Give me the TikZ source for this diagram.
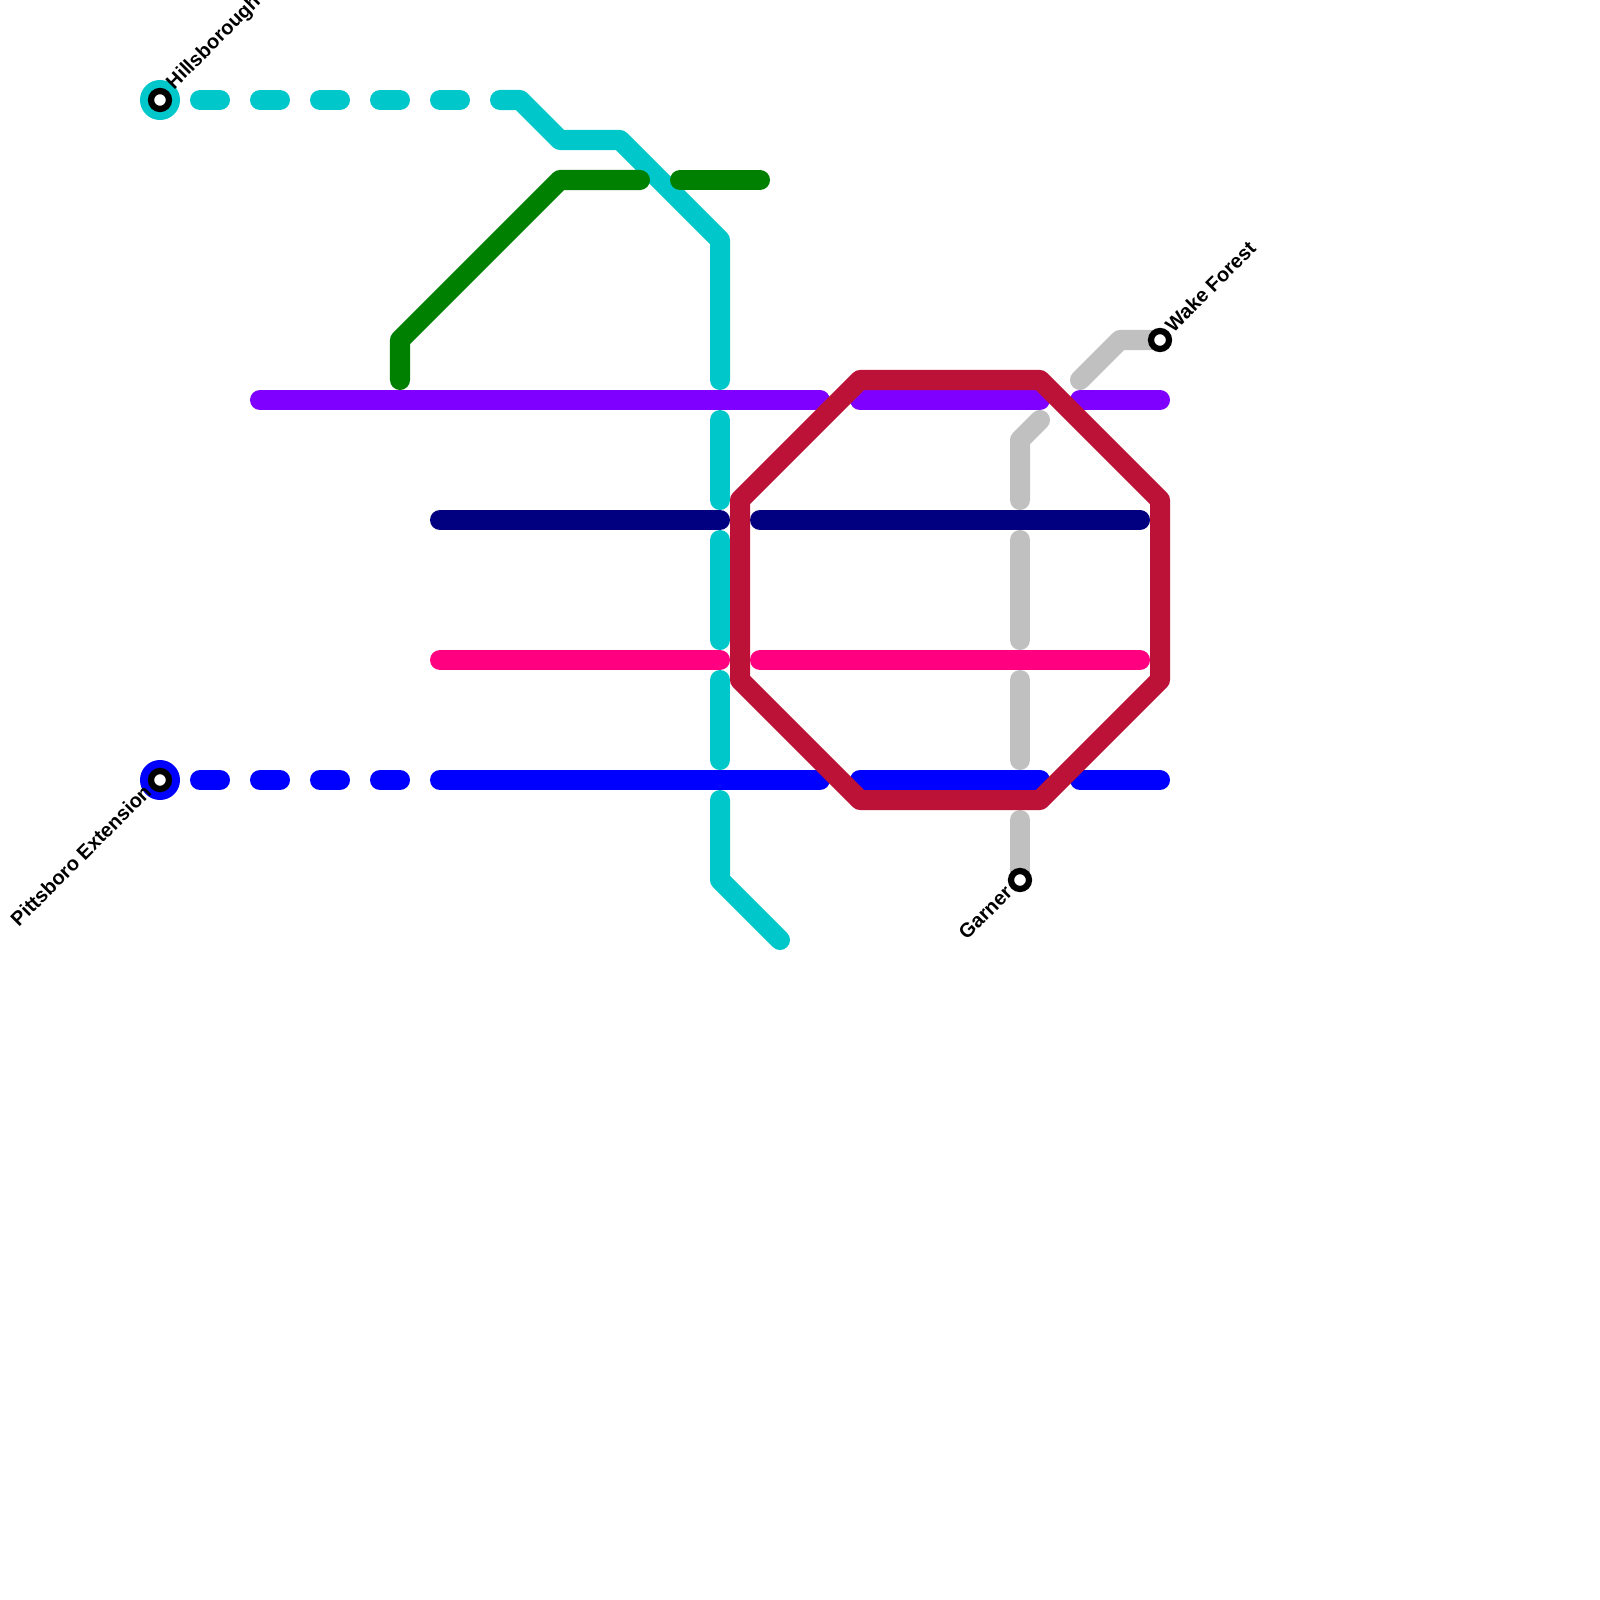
\documentclass[tikz,border=0pt]{standalone}
\usepackage{fontspec}
\setmainfont{Liberation Sans}
\usepackage{xcolor}
\definecolor{teal1}{HTML}{00C8CA}
\definecolor{green1}{HTML}{008000}
\definecolor{purple1}{HTML}{8000FF}
\definecolor{navy1}{HTML}{000080}
\definecolor{pink1}{HTML}{FF0080}
\definecolor{blue1}{HTML}{0000FF}
\definecolor{ring1}{HTML}{BC1238}
\definecolor{grey1}{HTML}{C0C0C0}
\tikzset{route/.style={line width=2mm, line cap=round, line join=round}}
\tikzset{stop/.style={draw=black, circle, fill=white, line width=0.62mm, inner sep=0pt, minimum size=1.8mm}}
\tikzset{endcap/.style={circle, inner sep=0pt, outer sep=0pt, minimum size=4mm}}
\tikzset{stoplabel/.style={rotate=45, inner sep=0pt, font=\fontsize{5.69pt}{7pt}\selectfont\bfseries}}

\begin{document}
\begin{tikzpicture}[x=0.01cm, y=-0.01cm]
    \path[use as bounding box, clip] (0, 0) rectangle (1600, 1600);

    \coordinate (H) at (160, 100);
    \coordinate (P) at (160, 780);
    \coordinate (W) at (1160, 340);
    \coordinate (G) at (1020, 880);

    % teal
    \foreach \x in {200, 260, 320, 380, 440}
        \draw[route, teal1] (\x, 100) -- (\x + 20, 100);
    \draw[route, teal1] (500, 100) -- (520, 100) -- (560, 140) -- (620, 140) -- (720, 240) -- (720, 380);
    \draw[route, teal1] (720, 420) -- (720, 500);
    \draw[route, teal1] (720, 540) -- (720, 640);
    \draw[route, teal1] (720, 680) -- (720, 760);
    \draw[route, teal1] (720, 800) -- (720, 880) -- (780, 940);

    % green
    \draw[route, green1] (400, 380) -- (400, 340) -- (560, 180) -- (640, 180);
    \draw[route, green1] (680, 180) -- (760, 180);

    % grey
    \draw[route, grey1] (1080, 380) -- (1120, 340) -- (W);
    \draw[route, grey1] (1040, 420) -- (1020, 440) -- (1020, 500);
    \draw[route, grey1] (1020, 540) -- (1020, 640);
    \draw[route, grey1] (1020, 680) -- (1020, 760);
    \draw[route, grey1] (1020, 820) -- (G);

    % horizontal lines
    \draw[route, purple1] (260, 400) -- (820, 400);
    \draw[route, purple1] (860, 400) -- (1040, 400);
    \draw[route, purple1] (1080, 400) -- (1160, 400);
    \draw[route, navy1] (440, 520) -- (720, 520);
    \draw[route, navy1] (760, 520) -- (1140, 520);
    \draw[route, pink1] (440, 660) -- (720, 660);
    \draw[route, pink1] (760, 660) -- (1140, 660);
    \foreach \x in {200, 260, 320, 380}
        \draw[route, blue1] (\x, 780) -- (\x + 20, 780);
    \draw[route, blue1] (440, 780) -- (820, 780);
    \draw[route, blue1] (860, 780) -- (1040, 780);
    \draw[route, blue1] (1080, 780) -- (1160, 780);

    % octagon
    \draw[route, ring1] (740, 500) -- (860, 380) -- (1040, 380) -- (1160, 500) -- (1160, 680) -- (1040, 800) -- (860, 800) -- (740, 680) -- cycle;

    % stations
    \node[endcap, fill=teal1] at (H) (Hcap) {};
    \node[endcap, fill=blue1] at (P) (Pcap) {};
    \node[stop] at (H) (Hstop) {};
    \node[stop] at (P) (Pstop) {};
    \node[stop] at (W) (Wstop) {};
    \node[stop] at (G) (Gstop) {};

    \node[stoplabel, anchor=west] at (170, 87) (Hlabel) {Hillsborough};
    \node[stoplabel, anchor=east] at (148, 788) (Plabel) {Pittsboro Extension};
    \node[stoplabel, anchor=west] at (1168, 329) (Wlabel) {Wake Forest};
    \node[stoplabel, anchor=east] at (1009, 889) (Glabel) {Garner};
\end{tikzpicture}
\end{document}
